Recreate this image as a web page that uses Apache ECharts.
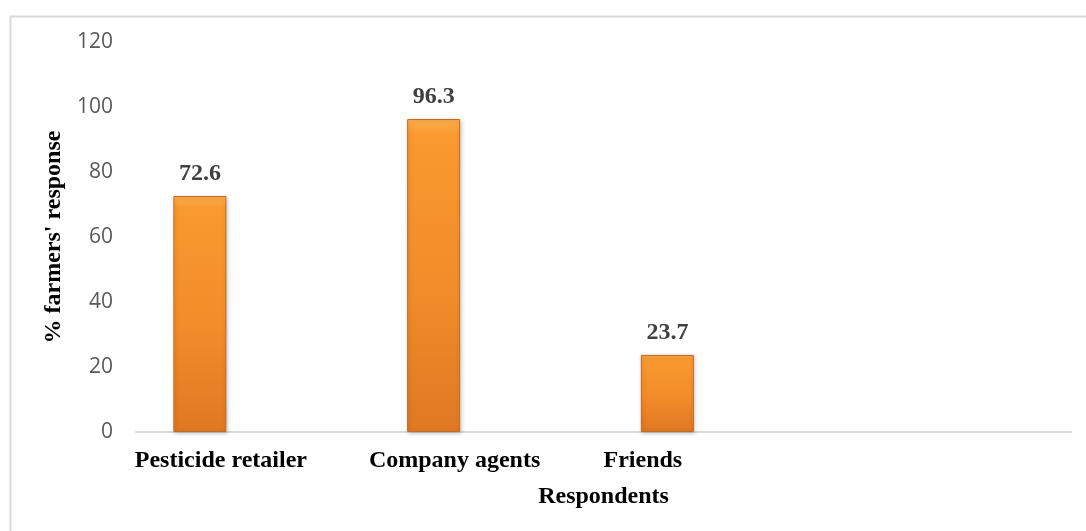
<!DOCTYPE html>
<html>
<head>
<meta charset="utf-8">
<title>Farmers' response by source</title>
<script src="https://cdn.jsdelivr.net/npm/echarts@6/dist/echarts.min.js"></script>
<style>
  html, body { margin: 0; padding: 0; background: #ffffff; }
  #chart { width: 1086px; height: 531px; }
</style>
</head>
<body>
<div id="chart"></div>
<script>
// Source categories (the fourth slot is left blank on the axis)
const categories = ['Pesticide retailer', 'Company agents', 'Friends', ''];
// Share of farmers naming each source, in percent
const responseValues = [72.6, 96.3, 23.7, null];
// Y axis tick range
const yTicks = { min: 0, max: 120, step: 20 };

const serif = '"Liberation Serif", "Times New Roman", serif';
const sans = '"Open Sans", "Noto Sans", sans-serif';

// Horizontal nudges for the category labels (right padding shifts a centred label left)
const labelShift = [64, 64, 155, 0];

const catLabel = function (i) {
  return {
    fontFamily: serif, fontWeight: 'bold', fontSize: 24, color: '#000000',
    padding: [0, labelShift[i], 0, 0]
  };
};

const chart = echarts.init(document.getElementById('chart'), null, { renderer: 'canvas' });

chart.setOption({
  animation: false,
  backgroundColor: '#ffffff',
  graphic: [{
    type: 'rect',
    left: 8, top: 14,
    shape: { width: 1200, height: 700 },
    style: { fill: 'none', stroke: '#d9d9d9', lineWidth: 2 },
    silent: true, z: -1
  }],
  grid: { left: 136, right: 15, top: 42, bottom: 99, containLabel: false },
  xAxis: {
    type: 'category',
    data: categories,
    boundaryGap: true,
    name: 'Respondents',
    nameLocation: 'middle',
    nameGap: 53,
    nameTextStyle: {
      fontFamily: serif, fontWeight: 'bold', fontSize: 24, color: '#000000'
    },
    axisLine: { show: true, lineStyle: { color: '#d9d9d9', width: 2 } },
    axisTick: { show: false },
    splitLine: { show: false },
    axisLabel: {
      margin: 17,
      interval: 0,
      formatter: function (value, idx) {
        return value ? '{c' + idx + '|' + value + '}' : '';
      },
      rich: { c0: catLabel(0), c1: catLabel(1), c2: catLabel(2) }
    }
  },
  yAxis: {
    type: 'value',
    min: yTicks.min,
    max: yTicks.max,
    interval: yTicks.step,
    name: "% farmers' response",
    nameLocation: 'middle',
    nameRotate: 90,
    nameGap: 63,
    nameTextStyle: {
      fontFamily: serif, fontWeight: 'bold', fontSize: 24, color: '#000000'
    },
    axisLine: { show: false },
    axisTick: { show: false },
    splitLine: { show: false },
    axisLabel: {
      margin: 23,
      fontFamily: sans,
      fontSize: 21,
      color: '#595959'
    }
  },
  series: [
    {
      name: 'Response',
      type: 'bar',
      data: responseValues,
      barWidth: 53,
      barGap: '100%',
      itemStyle: {
        color: new echarts.graphic.LinearGradient(0, 0, 0, 1, [
          { offset: 0, color: '#fcb04e' },
          { offset: 0.05, color: '#f9992f' },
          { offset: 0.55, color: '#f28c2a' },
          { offset: 1, color: '#e07823' }
        ]),
        borderColor: '#c46a22',
        borderWidth: 1,
        shadowColor: 'rgba(0,0,0,0.22)',
        shadowBlur: 4,
        shadowOffsetX: 1,
        shadowOffsetY: 1
      },
      label: {
        show: true,
        position: 'top',
        distance: 10,
        fontFamily: serif,
        fontWeight: 'bold',
        fontSize: 24,
        color: '#404040'
      }
    },
    {
      // empty companion series that keeps the offset of each bar within its slot
      name: 'Spacer',
      type: 'bar',
      data: [null, null, null, null],
      barWidth: 53,
      barGap: '100%',
      silent: true
    }
  ]
});
</script>
</body>
</html>
